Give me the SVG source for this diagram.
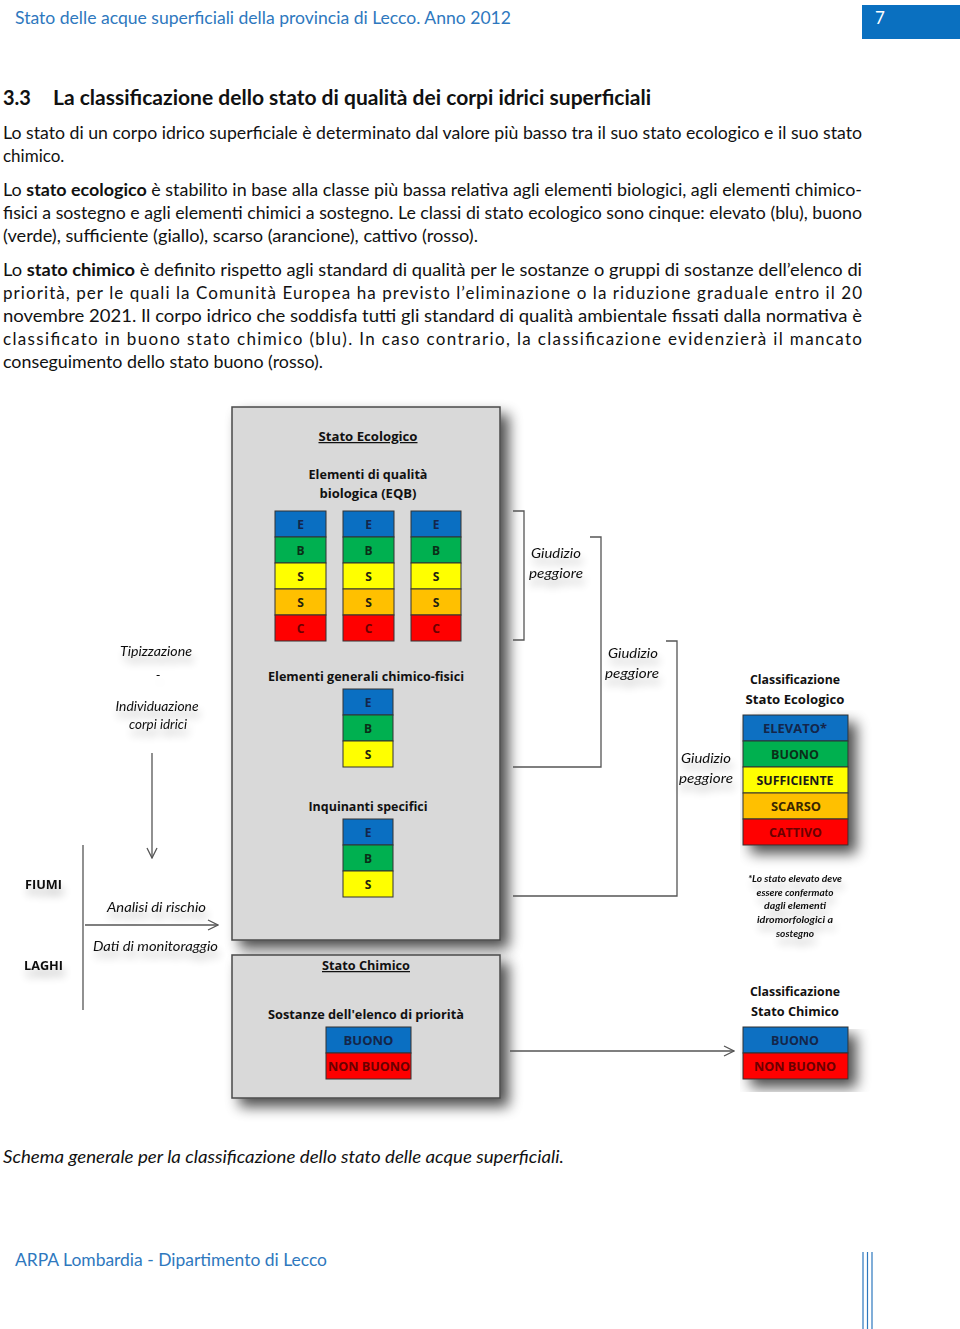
<svg xmlns="http://www.w3.org/2000/svg" width="960" height="1329" viewBox="0 0 960 1329">
<defs>
<style>
text{font-family:Lato,"Open Sans","Liberation Sans",sans-serif;}
.hdr{font-size:17px;fill:#2E78BE;}
.body{font-size:17px;fill:#111;}
.h2{font-size:20px;font-weight:bold;fill:#111;}
.lbl{font-family:"Open Sans","Liberation Sans",sans-serif;font-size:12.5px;font-weight:bold;fill:#111;text-anchor:middle;}
.ttl{font-family:"Open Sans","Liberation Sans",sans-serif;font-size:12.5px;font-weight:bold;fill:#111;text-anchor:middle;text-decoration:underline;}
.itm{font-size:13.5px;font-style:italic;fill:#111;text-anchor:middle;}
.cell{font-family:"Open Sans","Liberation Sans",sans-serif;font-size:12px;font-weight:bold;text-anchor:middle;}
.cls{font-family:"Open Sans","Liberation Sans",sans-serif;font-size:13px;font-weight:bold;text-anchor:middle;}
.fn{font-size:9.5px;font-style:italic;font-weight:bold;fill:#111;text-anchor:middle;}
.panel{fill:#D9D9D9;stroke:#4a4a4a;stroke-width:1.5;}
.ln{fill:none;stroke:#555;stroke-width:1.3;}
.E{fill:#0A6FC2;stroke:#333;stroke-width:1;}
.B{fill:#00B050;stroke:#333;stroke-width:1;}
.Y{fill:#FFFF00;stroke:#333;stroke-width:1;}
.O{fill:#FFC000;stroke:#333;stroke-width:1;}
.R{fill:#FF0000;stroke:#333;stroke-width:1;}
.tE{fill:#14264A;}
.tB{fill:#0B2E18;}
.tS{fill:#222210;}
.tC{fill:#6A0000;}
</style>
<filter id="sh" x="-10%" y="-10%" width="135%" height="135%">
<feGaussianBlur in="SourceAlpha" stdDeviation="7"/>
<feOffset dx="8" dy="8" result="b"/>
<feComponentTransfer><feFuncA type="linear" slope="0.7"/></feComponentTransfer>
<feMerge><feMergeNode/><feMergeNode in="SourceGraphic"/></feMerge>
</filter>
<filter id="tsh" x="-20%" y="-50%" width="140%" height="250%">
<feGaussianBlur in="SourceAlpha" stdDeviation="4"/>
<feOffset dx="2" dy="7" result="b"/>
<feComponentTransfer><feFuncA type="linear" slope="0.3"/></feComponentTransfer>
<feMerge><feMergeNode/><feMergeNode in="SourceGraphic"/></feMerge>
</filter>
<marker id="arr" viewBox="0 0 12 12" refX="11" refY="6" markerWidth="12" markerHeight="12" markerUnits="userSpaceOnUse" orient="auto">
<path d="M1,1 L11,6 L1,11" fill="none" stroke="#555" stroke-width="1.3"/>
</marker>
</defs>
<rect width="960" height="1329" fill="#fff"/>

<g id="header">
<text class="hdr" x="15" y="24" textLength="496" lengthAdjust="spacingAndGlyphs">Stato delle acque superficiali della provincia di Lecco. Anno 2012</text>
<rect x="862" y="5" width="98" height="34" fill="#0A70C0"/>
<text x="875" y="24" style="font-size:17px;fill:#fff">7</text>
</g>

<g id="text-body">
<text class="h2" x="3" y="105">3.3</text>
<text class="h2" x="53" y="105" textLength="598" lengthAdjust="spacingAndGlyphs">La classificazione dello stato di qualità dei corpi idrici superficiali</text>
<text class="body" x="3" y="139" textLength="859" lengthAdjust="spacingAndGlyphs">Lo stato di un corpo idrico superficiale è determinato dal valore più basso tra il suo stato ecologico e il suo stato</text>
<text class="body" x="3" y="162">chimico.</text>
<text class="body" x="3" y="196" textLength="859" lengthAdjust="spacingAndGlyphs">Lo <tspan font-weight="bold">stato ecologico</tspan> è stabilito in base alla classe più bassa relativa agli elementi biologici, agli elementi chimico-</text>
<text class="body" x="3" y="219" textLength="859" lengthAdjust="spacingAndGlyphs">fisici a sostegno e agli elementi chimici a sostegno. Le classi di stato ecologico sono cinque: elevato (blu), buono</text>
<text class="body" x="3" y="242" textLength="475" lengthAdjust="spacingAndGlyphs">(verde), sufficiente (giallo), scarso (arancione), cattivo (rosso).</text>
<text class="body" x="3" y="276" textLength="859" lengthAdjust="spacingAndGlyphs">Lo <tspan font-weight="bold">stato chimico</tspan> è definito rispetto agli standard di qualità per le sostanze o gruppi di sostanze dell’elenco di</text>
<text class="body" x="3" y="299" textLength="859" lengthAdjust="spacing">priorità, per le quali la Comunità Europea ha previsto l’eliminazione o la riduzione graduale entro il 20</text>
<text class="body" x="3" y="322" textLength="859" lengthAdjust="spacingAndGlyphs">novembre 2021. Il corpo idrico che soddisfa tutti gli standard di qualità ambientale fissati dalla normativa è</text>
<text class="body" x="3" y="345" textLength="859" lengthAdjust="spacing">classificato in buono stato chimico (blu). In caso contrario, la classificazione evidenzierà il mancato</text>
<text class="body" x="3" y="368" textLength="320" lengthAdjust="spacingAndGlyphs">conseguimento dello stato buono (rosso).</text>
</g>

<g id="stato-ecologico">
<rect class="panel" x="232" y="407" width="268" height="533" filter="url(#sh)"/>
<text class="ttl" x="368" y="441" textLength="99" lengthAdjust="spacingAndGlyphs">Stato Ecologico</text>
<text class="lbl" x="368" y="479" textLength="119" lengthAdjust="spacingAndGlyphs">Elementi di qualità</text>
<text class="lbl" x="368" y="498" textLength="97" lengthAdjust="spacingAndGlyphs">biologica (EQB)</text>
</g>

<g id="eqb-1">
<rect class="E" x="275" y="511" width="51" height="26"/><text class="cell tE" x="300.5" y="528.5">E</text>
<rect class="B" x="275" y="537" width="51" height="26"/><text class="cell tB" x="300.5" y="554.5">B</text>
<rect class="Y" x="275" y="563" width="51" height="26"/><text class="cell tS" x="300.5" y="580.5">S</text>
<rect class="O" x="275" y="589" width="51" height="26"/><text class="cell tS" x="300.5" y="606.5">S</text>
<rect class="R" x="275" y="615" width="51" height="26"/><text class="cell tC" x="300.5" y="632.5">C</text>
</g>
<g id="eqb-2">
<rect class="E" x="343" y="511" width="51" height="26"/><text class="cell tE" x="368.5" y="528.5">E</text>
<rect class="B" x="343" y="537" width="51" height="26"/><text class="cell tB" x="368.5" y="554.5">B</text>
<rect class="Y" x="343" y="563" width="51" height="26"/><text class="cell tS" x="368.5" y="580.5">S</text>
<rect class="O" x="343" y="589" width="51" height="26"/><text class="cell tS" x="368.5" y="606.5">S</text>
<rect class="R" x="343" y="615" width="51" height="26"/><text class="cell tC" x="368.5" y="632.5">C</text>
</g>
<g id="eqb-3">
<rect class="E" x="411" y="511" width="50" height="26"/><text class="cell tE" x="436" y="528.5">E</text>
<rect class="B" x="411" y="537" width="50" height="26"/><text class="cell tB" x="436" y="554.5">B</text>
<rect class="Y" x="411" y="563" width="50" height="26"/><text class="cell tS" x="436" y="580.5">S</text>
<rect class="O" x="411" y="589" width="50" height="26"/><text class="cell tS" x="436" y="606.5">S</text>
<rect class="R" x="411" y="615" width="50" height="26"/><text class="cell tC" x="436" y="632.5">C</text>
</g>

<g id="chimico-fisici">
<text class="lbl" x="366" y="681" textLength="196" lengthAdjust="spacingAndGlyphs">Elementi generali chimico-fisici</text>
<rect class="E" x="343" y="689" width="50" height="26"/><text class="cell tE" x="368" y="706.5">E</text>
<rect class="B" x="343" y="715" width="50" height="26"/><text class="cell tB" x="368" y="732.5">B</text>
<rect class="Y" x="343" y="741" width="50" height="26"/><text class="cell tS" x="368" y="758.5">S</text>
</g>

<g id="inquinanti">
<text class="lbl" x="368" y="811" textLength="119" lengthAdjust="spacingAndGlyphs">Inquinanti specifici</text>
<rect class="E" x="343" y="819" width="50" height="26"/><text class="cell tE" x="368" y="836.5">E</text>
<rect class="B" x="343" y="845" width="50" height="26"/><text class="cell tB" x="368" y="862.5">B</text>
<rect class="Y" x="343" y="871" width="50" height="26"/><text class="cell tS" x="368" y="888.5">S</text>
</g>

<g id="stato-chimico">
<rect class="panel" x="232" y="955" width="268" height="143" filter="url(#sh)"/>
<text class="ttl" x="366" y="970" textLength="88" lengthAdjust="spacingAndGlyphs">Stato Chimico</text>
<text class="lbl" x="366" y="1019" textLength="196" lengthAdjust="spacingAndGlyphs">Sostanze dell'elenco di priorità</text>
<rect class="E" x="326" y="1027" width="85" height="26"/><text class="cls tE" x="368.5" y="1045">BUONO</text>
<rect class="R" x="326" y="1053" width="85" height="26"/><text class="cls tC" x="369" y="1071" textLength="82" lengthAdjust="spacingAndGlyphs">NON BUONO</text>
</g>

<g id="classificazione-ecologico">
<text class="lbl" x="795" y="684" textLength="90" lengthAdjust="spacingAndGlyphs">Classificazione</text>
<text class="lbl" x="795" y="704" textLength="99" lengthAdjust="spacingAndGlyphs">Stato Ecologico</text>
<g filter="url(#sh)">
<rect class="E" x="743" y="715" width="105" height="26"/>
<rect class="B" x="743" y="741" width="105" height="26"/>
<rect class="Y" x="743" y="767" width="105" height="26"/>
<rect class="O" x="743" y="793" width="105" height="26"/>
<rect class="R" x="743" y="819" width="105" height="26"/>
</g>
<text class="cls tE" x="795" y="733" textLength="64" lengthAdjust="spacingAndGlyphs">ELEVATO*</text>
<text class="cls tB" x="795" y="759" textLength="48" lengthAdjust="spacingAndGlyphs">BUONO</text>
<text class="cls" x="795" y="785" fill="#1a1a1a" textLength="77" lengthAdjust="spacingAndGlyphs">SUFFICIENTE</text>
<text class="cls" x="796" y="811" fill="#3a2600" textLength="50" lengthAdjust="spacingAndGlyphs">SCARSO</text>
<text class="cls tC" x="795.5" y="837" textLength="53" lengthAdjust="spacingAndGlyphs">CATTIVO</text>
</g>

<g id="nota" filter="url(#tsh)">
<text class="fn" x="795" y="882" textLength="94" lengthAdjust="spacingAndGlyphs">*Lo stato elevato deve</text>
<text class="fn" x="795" y="896" textLength="77" lengthAdjust="spacingAndGlyphs">essere confermato</text>
<text class="fn" x="795" y="909" textLength="62" lengthAdjust="spacingAndGlyphs">dagli elementi</text>
<text class="fn" x="795" y="923" textLength="76" lengthAdjust="spacingAndGlyphs">idromorfologici a</text>
<text class="fn" x="795" y="937" textLength="38" lengthAdjust="spacingAndGlyphs">sostegno</text>
</g>

<g id="classificazione-chimico">
<text class="lbl" x="795" y="996" textLength="90" lengthAdjust="spacingAndGlyphs">Classificazione</text>
<text class="lbl" x="795" y="1016" textLength="88" lengthAdjust="spacingAndGlyphs">Stato Chimico</text>
<g filter="url(#sh)">
<rect class="E" x="743" y="1027" width="105" height="26"/>
<rect class="R" x="743" y="1053" width="105" height="26"/>
</g>
<text class="cls tE" x="795" y="1045" textLength="48" lengthAdjust="spacingAndGlyphs">BUONO</text>
<text class="cls tC" x="795" y="1071" textLength="82" lengthAdjust="spacingAndGlyphs">NON BUONO</text>
</g>

<g id="tipizzazione" filter="url(#tsh)">
<text class="itm" x="156" y="656" textLength="72" lengthAdjust="spacingAndGlyphs">Tipizzazione</text>
<text class="itm" x="158" y="680">-</text>
<text class="itm" x="157" y="711" textLength="83" lengthAdjust="spacingAndGlyphs">Individuazione</text>
<text class="itm" x="158" y="729" textLength="58" lengthAdjust="spacingAndGlyphs">corpi idrici</text>
</g>

<g id="fiumi-laghi" filter="url(#tsh)">
<text x="25" y="889" style="font-family:'Open Sans',sans-serif;font-size:12.5px;font-weight:bold;fill:#111" textLength="37" lengthAdjust="spacingAndGlyphs">FIUMI</text>
<text x="24" y="970" style="font-family:'Open Sans',sans-serif;font-size:12.5px;font-weight:bold;fill:#111" textLength="39" lengthAdjust="spacingAndGlyphs">LAGHI</text>
</g>

<g id="analisi" filter="url(#tsh)">
<text class="itm" x="156.5" y="912" textLength="99" lengthAdjust="spacingAndGlyphs">Analisi di rischio</text>
<text class="itm" x="155.5" y="951" textLength="125" lengthAdjust="spacingAndGlyphs">Dati di monitoraggio</text>
</g>

<g id="giudizio-1" filter="url(#tsh)">
<text class="itm" x="556" y="558" textLength="50" lengthAdjust="spacingAndGlyphs">Giudizio</text>
<text class="itm" x="556" y="578" textLength="54" lengthAdjust="spacingAndGlyphs">peggiore</text>
</g>
<g id="giudizio-2" filter="url(#tsh)">
<text class="itm" x="633" y="658" textLength="50" lengthAdjust="spacingAndGlyphs">Giudizio</text>
<text class="itm" x="632" y="678" textLength="54" lengthAdjust="spacingAndGlyphs">peggiore</text>
</g>
<g id="giudizio-3" filter="url(#tsh)">
<text class="itm" x="706" y="763" textLength="50" lengthAdjust="spacingAndGlyphs">Giudizio</text>
<text class="itm" x="706" y="783" textLength="54" lengthAdjust="spacingAndGlyphs">peggiore</text>
</g>

<g id="connectors">
<path class="ln" d="M513,511 H524 V640 H513"/>
<path class="ln" d="M590,537 H601 V767 H513"/>
<path class="ln" d="M666,641 H677 V896 H513"/>
<path class="ln" d="M152,753 V858" marker-end="url(#arr)"/>
<path class="ln" d="M83,845 V1010"/>
<path class="ln" d="M85,925 H218" marker-end="url(#arr)"/>
<path class="ln" d="M510,1051 H734" marker-end="url(#arr)"/>
</g>

<g id="caption">
<text x="3" y="1163" style="font-size:17px;font-style:italic;fill:#111" textLength="561" lengthAdjust="spacingAndGlyphs">Schema generale per la classificazione dello stato delle acque superficiali.</text>
</g>

<g id="footer">
<text class="hdr" x="15" y="1266" textLength="312" lengthAdjust="spacingAndGlyphs">ARPA Lombardia - Dipartimento di Lecco</text>
<path d="M863,1252 V1329 M867.5,1252 V1329 M872,1252 V1329" stroke="#2E78BE" stroke-width="1.2" fill="none"/>
</g>
</svg>
